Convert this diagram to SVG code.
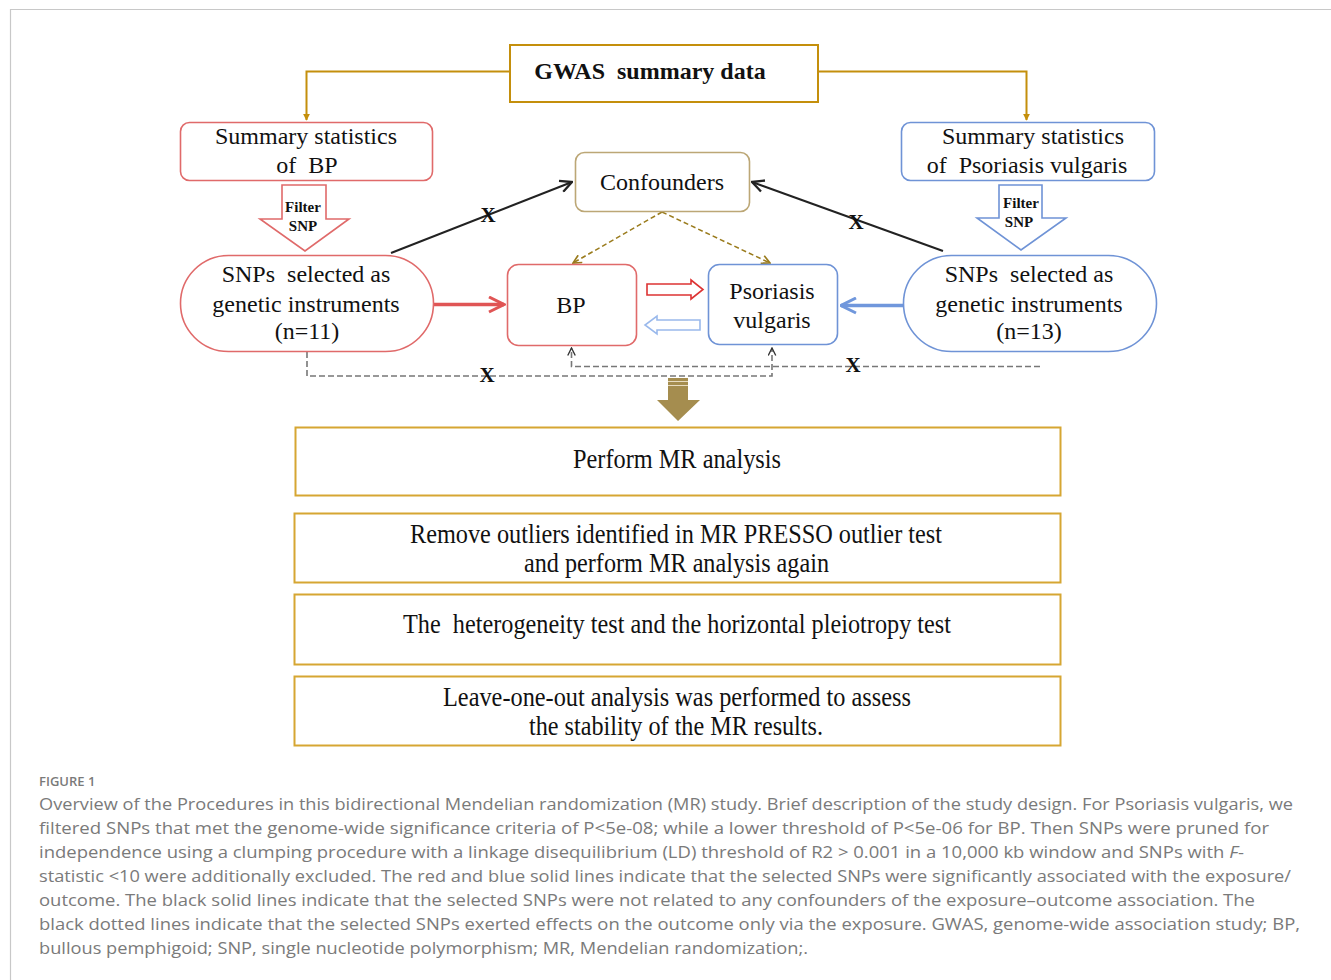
<svg xmlns="http://www.w3.org/2000/svg" width="1331" height="980" viewBox="0 0 1331 980">
<defs>
<style>
.serif{font-family:"Liberation Serif","Times New Roman",serif;fill:#111;}
.t24{font-size:24px;}
.mid{text-anchor:middle;}
.box{font-size:27px;}
.cap{font-family:"Open Sans","Liberation Sans",sans-serif;font-size:17px;fill:#7a7a7a;}
.red{fill:#fff;stroke:#e06a6a;stroke-width:1.6;}
.blue{fill:#fff;stroke:#6f93d6;stroke-width:1.6;}
.gold{fill:#fff;stroke:#d6a632;stroke-width:2;}
.dash{fill:none;stroke:#777;stroke-width:1.6;stroke-dasharray:6 3;}
.olive{fill:none;stroke:#9a7b1c;stroke-width:1.5;stroke-dasharray:5 3;}
</style>
<marker id="gArr" viewBox="0 0 10 10" refX="9" refY="5" markerWidth="7" markerHeight="7" orient="auto" markerUnits="userSpaceOnUse">
<path d="M0,0 L10,5 L0,10 z" fill="#c48f0c"/>
</marker>
<marker id="kArr" viewBox="0 0 12 12" refX="11" refY="6" markerWidth="14" markerHeight="14" orient="auto" markerUnits="userSpaceOnUse">
<path d="M1,1 L11,6 L1,11" fill="none" stroke="#222" stroke-width="2"/>
</marker>
<marker id="oArr" viewBox="0 0 12 12" refX="11" refY="6" markerWidth="10" markerHeight="10" orient="auto" markerUnits="userSpaceOnUse">
<path d="M1,1 L11,6 L1,11" fill="none" stroke="#9a7b1c" stroke-width="2"/>
</marker>
<marker id="dArr" viewBox="0 0 12 12" refX="11" refY="6" markerWidth="9" markerHeight="9" orient="auto" markerUnits="userSpaceOnUse">
<path d="M1,1 L11,6 L1,11" fill="none" stroke="#333" stroke-width="1.8"/>
</marker>
<marker id="rArr" viewBox="0 0 12 12" refX="11" refY="6" markerWidth="18" markerHeight="18" orient="auto" markerUnits="userSpaceOnUse">
<path d="M1,1 L11,6 L1,11" fill="none" stroke="#e05555" stroke-width="2"/>
</marker>
<marker id="bArr" viewBox="0 0 12 12" refX="11" refY="6" markerWidth="18" markerHeight="18" orient="auto" markerUnits="userSpaceOnUse">
<path d="M1,1 L11,6 L1,11" fill="none" stroke="#7097dc" stroke-width="2"/>
</marker>
</defs>
<rect width="1331" height="980" fill="#fff"/>
<path d="M10.5,980 V9.5 H1331" fill="none" stroke="#c8c8c8" stroke-width="1.2"/>

<g id="connectors">
<path d="M510,71.5 H306.5 V120" fill="none" stroke="#c48f0c" stroke-width="2" marker-end="url(#gArr)"/>
<path d="M818,71.5 H1026.5 V120" fill="none" stroke="#c48f0c" stroke-width="2" marker-end="url(#gArr)"/>
<line x1="391" y1="253" x2="572" y2="182" stroke="#222" stroke-width="2" marker-end="url(#kArr)"/>
<line x1="943" y1="251" x2="752" y2="182" stroke="#222" stroke-width="2" marker-end="url(#kArr)"/>
<path d="M662,212 L573,263" class="olive" marker-end="url(#oArr)"/>
<path d="M662,212 L770,263" class="olive" marker-end="url(#oArr)"/>
<line x1="434" y1="304.5" x2="504" y2="304.5" stroke="#e05555" stroke-width="3.5" marker-end="url(#rArr)"/>
<line x1="903" y1="305.5" x2="841" y2="305.5" stroke="#7097dc" stroke-width="3.5" marker-end="url(#bArr)"/>
<path d="M307,352 V376 H772 V348" class="dash" marker-end="url(#dArr)"/>
<path d="M1040,366.5 H571.5 V348" class="dash" marker-end="url(#dArr)"/>
<path d="M647,284 H691 V280 L703,289.5 L691,299 V295 H647 Z" fill="#fff" stroke="#dd3333" stroke-width="1.6"/>
<path d="M700,320 H657 V316 L645,325 L657,334 V330 H700 Z" fill="#fff" stroke="#9ab9ec" stroke-width="1.6"/>
<text x="488" y="222" class="serif mid" font-size="21" font-weight="bold" fill="#222">X</text>
<text x="856" y="229" class="serif mid" font-size="21" font-weight="bold" fill="#222">X</text>
<text x="487" y="382" class="serif mid" font-size="21" font-weight="bold" fill="#333">X</text>
<text x="853" y="372" class="serif mid" font-size="21" font-weight="bold" fill="#333">X</text>
<path d="M668,378 H688 V400 H700 L678,421 L657,400 H668 Z" fill="#a58d4f"/>
<line x1="668" y1="381.5" x2="688" y2="381.5" stroke="#e8dcc0" stroke-width="1"/>
<line x1="668" y1="385.5" x2="688" y2="385.5" stroke="#e8dcc0" stroke-width="1"/>
</g>

<g id="gwas">
<rect x="510" y="45" width="308" height="57" fill="#fff" stroke="#c48f0c" stroke-width="2"/>
<text x="650" y="79" class="serif t24 mid" font-weight="bold" xml:space="preserve">GWAS  summary data</text>
</g>

<g id="sumBP">
<rect x="180.5" y="122.5" width="252" height="58" rx="9" class="red"/>
<text x="306" y="144" class="serif t24 mid">Summary statistics</text>
<text x="307" y="173" class="serif t24 mid" xml:space="preserve">of  BP</text>
</g>

<g id="filterBP">
<path d="M282,185 H326 V219 H349 L305,251 L260,219 H282 Z" fill="#fff" stroke="#e06a6a" stroke-width="1.6"/>
<text x="303" y="212" class="serif mid" font-size="15" font-weight="bold" fill="#333">Filter</text>
<text x="303" y="231" class="serif mid" font-size="15" font-weight="bold" fill="#333">SNP</text>
</g>

<g id="confounders">
<rect x="575.5" y="152.5" width="174" height="59" rx="9" fill="#fff" stroke="#bca776" stroke-width="1.6"/>
<text x="662" y="190" class="serif t24 mid">Confounders</text>
</g>

<g id="sumPV">
<rect x="901.5" y="122.5" width="253" height="58" rx="9" class="blue"/>
<text x="1033" y="144" class="serif t24 mid">Summary statistics</text>
<text x="1027" y="173" class="serif t24 mid" xml:space="preserve">of  Psoriasis vulgaris</text>
</g>

<g id="filterPV">
<path d="M999,185 H1042 V218 H1066 L1021,250 L977,218 H999 Z" fill="#fff" stroke="#6f93d6" stroke-width="1.6"/>
<text x="1021" y="208" class="serif mid" font-size="15" font-weight="bold" fill="#333">Filter</text>
<text x="1019" y="227" class="serif mid" font-size="15" font-weight="bold" fill="#333">SNP</text>
</g>

<g id="snpBP">
<rect x="180.5" y="255.5" width="253" height="96" rx="48" class="red"/>
<text x="306" y="282" class="serif t24 mid" xml:space="preserve">SNPs  selected as</text>
<text x="306" y="312" class="serif t24 mid">genetic instruments</text>
<text x="307" y="339" class="serif t24 mid">(n=11)</text>
</g>

<g id="bp">
<rect x="507.5" y="264.5" width="129" height="81" rx="11" class="red"/>
<text x="571" y="313" class="serif t24 mid">BP</text>
</g>

<g id="pv">
<rect x="708.5" y="264.5" width="129" height="80" rx="11" class="blue"/>
<text x="772" y="299" class="serif t24 mid">Psoriasis</text>
<text x="772" y="328" class="serif t24 mid">vulgaris</text>
</g>

<g id="snpPV">
<rect x="903.5" y="255.5" width="253" height="96" rx="48" class="blue"/>
<text x="1029" y="282" class="serif t24 mid" xml:space="preserve">SNPs  selected as</text>
<text x="1029" y="312" class="serif t24 mid">genetic instruments</text>
<text x="1029" y="339" class="serif t24 mid">(n=13)</text>
</g>

<g id="step1">
<rect x="295.5" y="427.5" width="765" height="68" class="gold"/>
<text x="677" y="468" class="serif box mid" textLength="208" lengthAdjust="spacingAndGlyphs">Perform MR analysis</text>
</g>
<g id="step2">
<rect x="294.5" y="513.5" width="766" height="69" class="gold"/>
<text x="676" y="543" class="serif box mid" textLength="532" lengthAdjust="spacingAndGlyphs">Remove outliers identified in MR PRESSO outlier test</text>
<text x="676.5" y="572" class="serif box mid" textLength="305" lengthAdjust="spacingAndGlyphs">and perform MR analysis again</text>
</g>
<g id="step3">
<rect x="294.5" y="594.5" width="766" height="70" class="gold"/>
<text x="677" y="633" class="serif box mid" textLength="548" lengthAdjust="spacingAndGlyphs" xml:space="preserve">The  heterogeneity test and the horizontal pleiotropy test</text>
</g>
<g id="step4">
<rect x="294.5" y="676.5" width="766" height="69" class="gold"/>
<text x="677" y="706" class="serif box mid" textLength="468" lengthAdjust="spacingAndGlyphs">Leave-one-out analysis was performed to assess</text>
<text x="676" y="735" class="serif box mid" textLength="294" lengthAdjust="spacingAndGlyphs">the stability of the MR results.</text>
</g>

<g id="caption">
<text x="39" y="786" font-family="'Open Sans','Liberation Sans',sans-serif" font-size="13" font-weight="600" fill="#7a7a7a">FIGURE 1</text>
<text x="39" y="810" class="cap" textLength="1254" lengthAdjust="spacingAndGlyphs">Overview of the Procedures in this bidirectional Mendelian randomization (MR) study. Brief description of the study design. For Psoriasis vulgaris, we</text>
<text x="39" y="834" class="cap" textLength="1230" lengthAdjust="spacingAndGlyphs">filtered SNPs that met the genome-wide significance criteria of P&lt;5e-08; while a lower threshold of P&lt;5e-06 for BP. Then SNPs were pruned for</text>
<text x="39" y="858" class="cap" textLength="1205" lengthAdjust="spacingAndGlyphs">independence using a clumping procedure with a linkage disequilibrium (LD) threshold of R2 &gt; 0.001 in a 10,000 kb window and SNPs with <tspan font-style="italic">F</tspan>-</text>
<text x="39" y="882" class="cap" textLength="1252" lengthAdjust="spacingAndGlyphs">statistic &lt;10 were additionally excluded. The red and blue solid lines indicate that the selected SNPs were significantly associated with the exposure/</text>
<text x="39" y="906" class="cap" textLength="1216" lengthAdjust="spacingAndGlyphs">outcome. The black solid lines indicate that the selected SNPs were not related to any confounders of the exposure–outcome association. The</text>
<text x="39" y="930" class="cap" textLength="1261" lengthAdjust="spacingAndGlyphs">black dotted lines indicate that the selected SNPs exerted effects on the outcome only via the exposure. GWAS, genome-wide association study; BP,</text>
<text x="39" y="954" class="cap" textLength="769" lengthAdjust="spacingAndGlyphs">bullous pemphigoid; SNP, single nucleotide polymorphism; MR, Mendelian randomization;.</text>
</g>
</svg>
